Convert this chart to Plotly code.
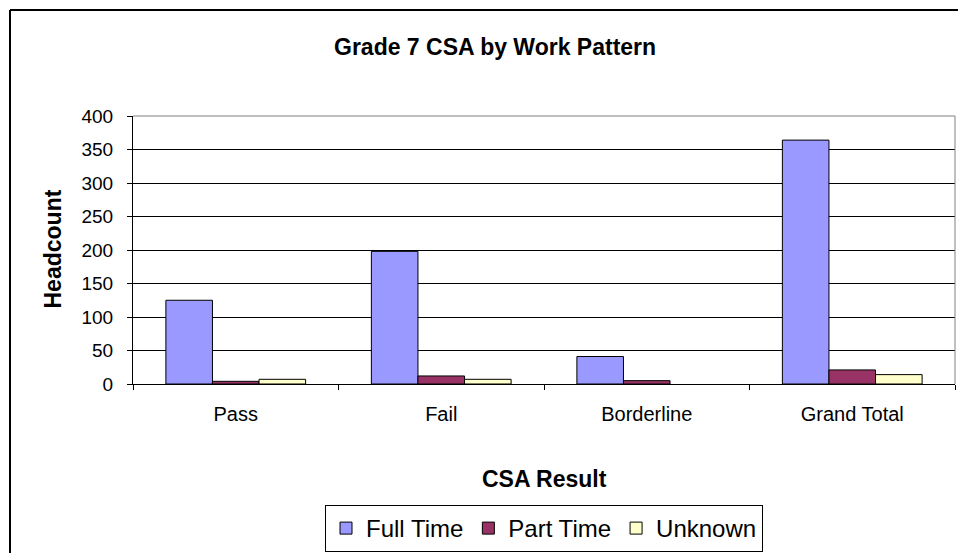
import plotly.graph_objects as go

categories = ["Pass", "Fail", "Borderline", "Grand Total"]
full_time = [125, 198, 41, 364]
part_time = [4, 12, 5, 21]
unknown = [7, 7, None, 14]
y_ticks = [0, 50, 100, 150, 200, 250, 300, 350, 400]

FONT = "Arial, Liberation Sans, sans-serif"
W, H = 958, 553
L, R, T, B = 133, 3, 116, 168
PW, PH = W - L - R, H - T - B

def px(x):
    return (x - L) / PW

def py(y):
    return (H - B - y) / PH

fig = go.Figure()
for name, vals, col in [("Full Time", full_time, "#9999FF"),
                        ("Part Time", part_time, "#993366"),
                        ("Unknown", unknown, "#FFFFCC")]:
    fig.add_trace(go.Bar(x=categories, y=vals, name=name,
                         marker=dict(color=col, line=dict(color="black", width=1))))

fig.update_layout(
    width=W, height=H,
    margin=dict(l=L, r=R, t=T, b=B, pad=0),
    paper_bgcolor="white", plot_bgcolor="white",
    barmode="group", bargap=0.32, bargroupgap=0,
    font=dict(family=FONT, color="black"),
    showlegend=True,
    legend=dict(orientation="h", x=0.5, xanchor="center", y=py(505), yanchor="top",
                bordercolor="black", borderwidth=1, font=dict(size=24, family=FONT),
                bgcolor="white"),
    xaxis=dict(type="category", showline=True, linecolor="black", linewidth=1,
               ticks="outside", tickson="boundaries", ticklen=5, tickcolor="black",
               tickfont=dict(size=20, family=FONT), ticklabelstandoff=12,
               showgrid=False),
    yaxis=dict(range=[0, 400], tickvals=y_ticks, showline=True, linecolor="black",
               linewidth=1, ticks="outside", ticklen=5, tickcolor="black",
               tickfont=dict(size=19, family=FONT), ticklabelstandoff=10,
               showgrid=True, gridcolor="black", gridwidth=1, zeroline=False),
    annotations=[
        dict(text="<b>Grade 7 CSA by Work Pattern</b>", xref="paper", yref="paper",
             x=px(495), y=py(47), xanchor="center", yanchor="middle", showarrow=False,
             font=dict(size=23, family=FONT)),
        dict(text="<b>Headcount</b>", xref="paper", yref="paper",
             x=px(53), y=py(250), xanchor="center", yanchor="middle", showarrow=False,
             textangle=-90, font=dict(size=23, family=FONT)),
        dict(text="<b>CSA Result</b>", xref="paper", yref="paper",
             x=px(544), y=py(480), xanchor="center", yanchor="middle", showarrow=False,
             font=dict(size=23, family=FONT)),
    ],
    shapes=[
        # outer chart-area border (left and top visible)
        dict(type="line", xref="paper", yref="paper", x0=px(10), x1=px(10),
             y0=py(9.5), y1=py(H + 20), line=dict(color="black", width=2)),
        dict(type="line", xref="paper", yref="paper", x0=px(10), x1=px(W + 20),
             y0=py(9.5), y1=py(9.5), line=dict(color="black", width=2)),
        # plot-area border top/right in gray
        dict(type="line", xref="paper", yref="paper", x0=0, x1=1, y0=1, y1=1,
             line=dict(color="#808080", width=1), layer="above"),
        dict(type="line", xref="paper", yref="paper", x0=1, x1=1, y0=0, y1=1,
             line=dict(color="#808080", width=1), layer="above"),
    ],
)

fig.write_html("out.html",
               config={"displayModeBar": False},
               post_script="document.body.style.margin='0';document.body.style.overflow='hidden';")
